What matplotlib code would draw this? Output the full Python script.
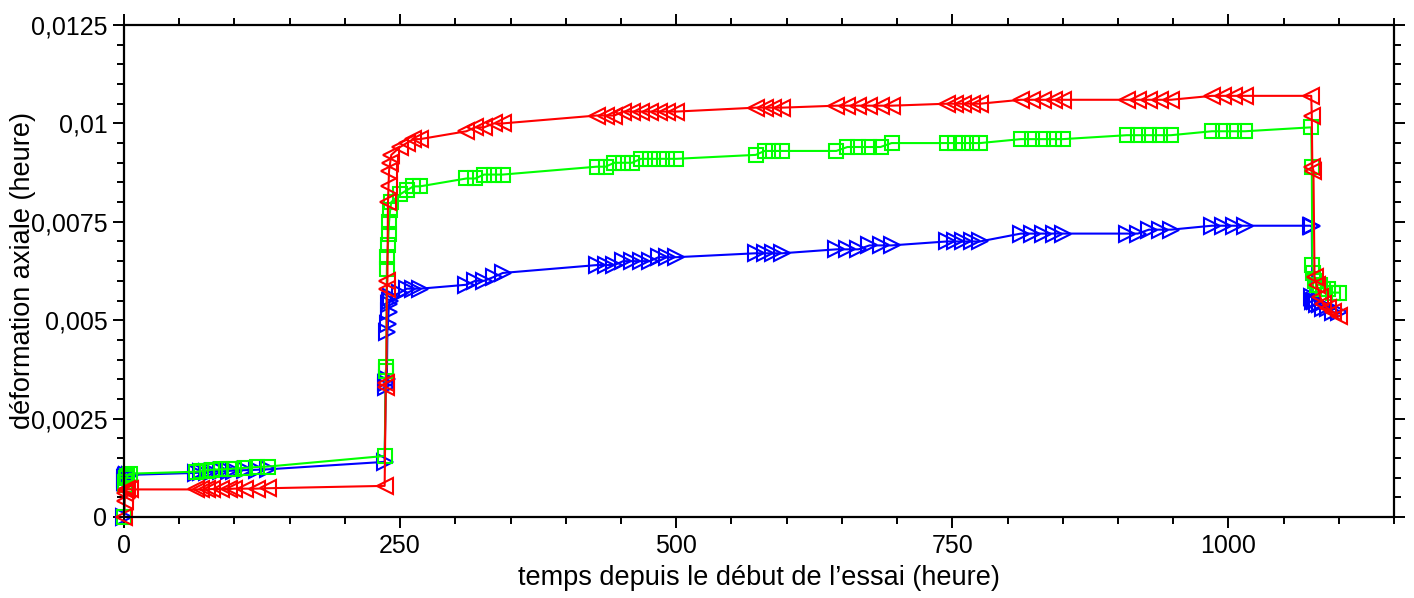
# -*- coding: utf-8 -*-
"""
plot.py

axial strain versus time for three gauges during a creep test
"""

import numpy as np
import matplotlib as mpl
mpl.use('Agg')
from matplotlib import pyplot as plt
from matplotlib import ticker

## measurement times (heure), shared by the three series
temps = [0, 0.5, 1, 2, 3, 5,
         65, 70, 75, 80, 88, 95, 100, 110, 120, 130,
         236, 237, 237.5, 238, 238.5, 239, 239.5, 240, 241, 242,
         250, 256, 262, 268,
         310, 318, 326, 335, 343,
         428, 436, 444, 452, 460, 468, 476, 484, 492, 500,
         572, 580, 588, 596,
         645, 655, 665, 675, 685, 695,
         745, 752, 760, 768, 775,
         812, 822, 832, 842, 850,
         908, 918, 928, 938, 948,
         985, 995, 1005, 1015,
         1075, 1075.5, 1076, 1077, 1078, 1080, 1083, 1086, 1090, 1095, 1100]

## blue series (right triangles)
bleu = [0, 0.0009, 0.001, 0.00105, 0.00106, 0.00107,
        0.00112, 0.00113, 0.00114, 0.00115, 0.00116, 0.00117, 0.00118,
        0.00119, 0.0012, 0.00121,
        0.0014, 0.0033, 0.0034, 0.0035, 0.0047, 0.0049, 0.0052, 0.0054,
        0.0055, 0.0056,
        0.0057, 0.0058, 0.0058, 0.0058,
        0.0059, 0.006, 0.006, 0.0061, 0.0062,
        0.0064, 0.0064, 0.0064, 0.0065, 0.0065, 0.0065, 0.0065, 0.0066,
        0.0066, 0.0066,
        0.0067, 0.0067, 0.0067, 0.0067,
        0.0068, 0.0068, 0.0068, 0.0069, 0.0069, 0.0069,
        0.007, 0.007, 0.007, 0.007, 0.007,
        0.0072, 0.0072, 0.0072, 0.0072, 0.0072,
        0.0072, 0.0072, 0.0073, 0.0073, 0.0073,
        0.0074, 0.0074, 0.0074, 0.0074,
        0.0074, 0.0074, 0.0056, 0.0055, 0.0055, 0.0054, 0.0054, 0.0053,
        0.0053, 0.0052, 0.0052]

## green series (squares)
vert = [0, 0.0008, 0.0009, 0.001, 0.00105, 0.0011,
        0.00115, 0.00116, 0.00118, 0.0012, 0.00121, 0.00122, 0.00123,
        0.00125, 0.00127, 0.00128,
        0.00155, 0.0037, 0.0038, 0.0063, 0.0066, 0.0069, 0.0072, 0.0075,
        0.0078, 0.008,
        0.0082, 0.0083, 0.0084, 0.0084,
        0.0086, 0.0086, 0.0087, 0.0087, 0.0087,
        0.0089, 0.0089, 0.009, 0.009, 0.009, 0.0091, 0.0091, 0.0091,
        0.0091, 0.0091,
        0.0092, 0.0093, 0.0093, 0.0093,
        0.0093, 0.0094, 0.0094, 0.0094, 0.0094, 0.0095,
        0.0095, 0.0095, 0.0095, 0.0095, 0.0095,
        0.0096, 0.0096, 0.0096, 0.0096, 0.0096,
        0.0097, 0.0097, 0.0097, 0.0097, 0.0097,
        0.0098, 0.0098, 0.0098, 0.0098,
        0.0099, 0.0089, 0.0064, 0.0062, 0.006, 0.0059, 0.0059, 0.0058,
        0.0058, 0.0057, 0.0057]

## red series (left triangles)
rouge = [0, 0.0004, 0.0006, 0.00068, 0.0007, 0.0007,
         0.0007, 0.0007, 0.0007, 0.00071, 0.00071, 0.00071, 0.00072,
         0.00072, 0.00072, 0.00073,
         0.00079, 0.0033, 0.0034, 0.0058, 0.006, 0.008, 0.0084, 0.0088,
         0.009, 0.0092,
         0.0094, 0.0095, 0.0096, 0.0096,
         0.0098, 0.0099, 0.0099, 0.01, 0.01,
         0.0102, 0.0102, 0.0102, 0.0103, 0.0103, 0.0103, 0.0103, 0.0103,
         0.0103, 0.0103,
         0.0104, 0.0104, 0.0104, 0.0104,
         0.01045, 0.01045, 0.01045, 0.01045, 0.01045, 0.01045,
         0.0105, 0.0105, 0.0105, 0.0105, 0.0105,
         0.0106, 0.0106, 0.0106, 0.0106, 0.0106,
         0.0106, 0.0106, 0.0106, 0.0106, 0.0106,
         0.0107, 0.0107, 0.0107, 0.0107,
         0.0107, 0.0102, 0.0089, 0.0088, 0.0061, 0.0059, 0.0056, 0.0054,
         0.0053, 0.0052, 0.0051]

x_ticks = [0, 250, 500, 750, 1000]
y_ticks = [0, 0.0025, 0.005, 0.0075, 0.01, 0.0125]


def virgule(v, pos=None):
    """format a tick value with a decimal comma"""
    return ('%g' % v).replace('.', ',')


def style_axes(ax):
    """ticks on all four sides, pointing out"""
    ax.set_xlim(0, 1150)
    ax.set_ylim(0, 0.0125)
    ax.set_xticks(x_ticks)
    ax.set_yticks(y_ticks)
    ax.xaxis.set_minor_locator(ticker.MultipleLocator(50))
    ax.yaxis.set_minor_locator(ticker.MultipleLocator(0.0005))
    ax.yaxis.set_major_formatter(ticker.FuncFormatter(virgule))
    ax.tick_params(which='both', direction='out', top=True, right=True,
                   width=1.4, labelsize=18)
    ax.tick_params(which='major', length=8, pad=4)
    ax.tick_params(which='minor', length=5)
    for s in ax.spines.values():
        s.set_linewidth(1.6)


plt.rcParams['font.family'] = ['Liberation Sans', 'DejaVu Sans']

fig = plt.figure(figsize=(14.14, 5.98), dpi=100)
ax = fig.add_axes([0.0877, 0.1355, 0.8982, 0.8227])

## draw the three series, red last so it sits on top
kw = dict(mfc='none', lw=1.5, mew=1.5, clip_on=False)
ax.plot(temps, bleu, color=(0, 0, 1), marker='>', ms=12, **kw)
ax.plot(temps, vert, color=(0, 1, 0), marker='s', ms=10, **kw)
ax.plot(temps, rouge, color=(1, 0, 0), marker='<', ms=12, **kw)

style_axes(ax)

ax.set_xlabel('temps depuis le début de l’essai (heure)', fontsize=19.5)
ax.set_ylabel('déformation axiale (heure)', fontsize=19.5)
ax.xaxis.set_label_coords(0.5, -0.097)
ax.yaxis.set_label_coords(-0.069, 0.5)

fig.savefig('out.png', dpi=100)
